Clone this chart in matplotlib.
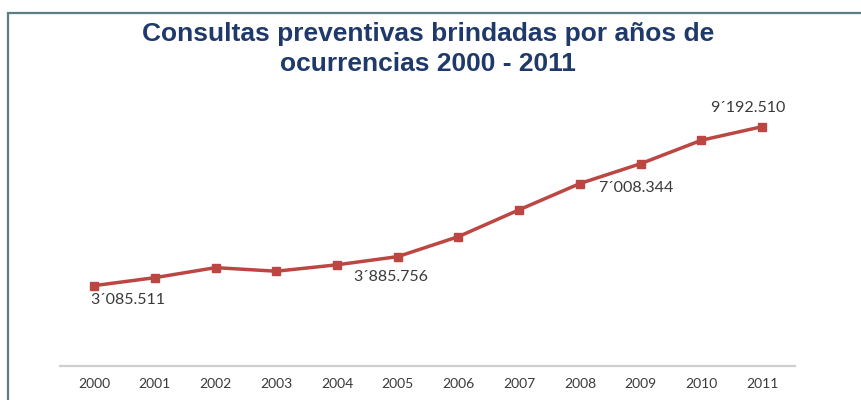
import matplotlib
matplotlib.use("Agg")
import matplotlib.pyplot as plt
from matplotlib.patches import Rectangle

years = ["2000", "2001", "2002", "2003", "2004", "2005",
         "2006", "2007", "2008", "2009", "2010", "2011"]
consultas = [3085511, 3392000, 3777000, 3640000, 3885756, 4200000,
             4970000, 6000000, 7008344, 7770000, 8670000, 9192510]
label_idx = [0, 4, 8, 11]
label_txt = ["3´085.511", "3´885.756", "7´008.344", "9´192.510"]
label_off = [(-3, -10), (11.5, -8.5), (13, -3), (-10, 13.5)]
label_ha = ["left", "left", "left", "center"]

title = "Consultas preventivas brindadas por años de\nocurrencias 2000 - 2011"

fig = plt.figure(figsize=(8.61, 4.0), dpi=100)
fig.patch.set_facecolor("white")

# frame
fig.add_artist(Rectangle((8/861, -0.1), 1.2, 1.1 - 13.5/400,
                         transform=fig.transFigure, fill=False,
                         edgecolor="#5f7d84", linewidth=1.6))

ax = fig.add_axes([60/861, 1 - 366/400, (795 - 60)/861, (366 - 105.6)/400])
x = list(range(len(years)))
ax.plot(x, consultas, color="#bc4642", linewidth=2.5, marker="s",
        markersize=5.5, markerfacecolor="#bc4642", markeredgecolor="#bc4642",
        solid_joinstyle="round")
ax.set_xlim(-0.56, 11.54)
ax.set_ylim(0, 10000000)
ax.set_xticks(x)
ax.set_xticklabels(years, fontsize=10, color="#3a3a3a", family="Lato")
ax.tick_params(axis="x", length=0, pad=9)
ax.set_yticks([])
for s in ["top", "right", "left"]:
    ax.spines[s].set_visible(False)
ax.spines["bottom"].set_color("#cfcfcf")
ax.spines["bottom"].set_linewidth(1.6)
ax.patch.set_alpha(0)

for i, t, off, ha in zip(label_idx, label_txt, label_off, label_ha):
    ax.annotate(t, (x[i], consultas[i]), xytext=off, textcoords="offset points",
                ha=ha, va="center", fontsize=11.5, color="#3a3a3a", family="Lato")

fig.text(0.4975, 1 - 49/400, title, ha="center", va="center",
         fontsize=19, fontweight="bold", color="#1f3a6a",
         family="Liberation Sans", linespacing=1.36)

fig.savefig("out.png", dpi=100)
